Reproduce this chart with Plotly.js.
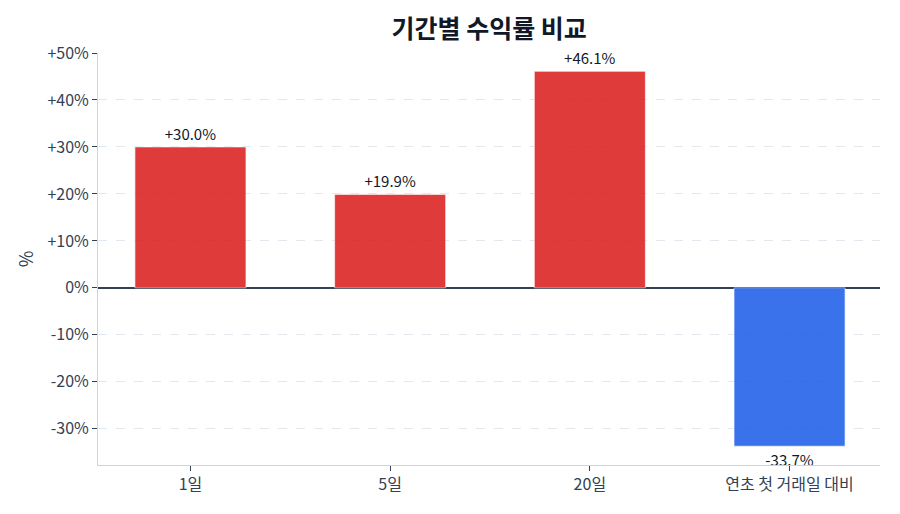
<!DOCTYPE html>
<html>
<head>
<meta charset="utf-8">
<script src="https://cdn.plot.ly/plotly-3.0.1.min.js"></script>
<style>
  html, body { margin: 0; padding: 0; background: #fff; }
  #chart { width: 900px; height: 514px; }
</style>
</head>
<body>
<div id="chart"></div>
<script>
const periods = [ '1일', '5일', '20일', '연초 첫 거래일 대비' ];
const returns = [ 30.0, 19.9, 46.1, -33.7 ];
const yTicks = [ -30, -20, -10, 0, 10, 20, 30, 40, 50 ];

const fmt = v => (v > 0 ? '+' : '') + v.toFixed(1) + '%';
const tickText = yTicks.map(v => (v > 0 ? '+' : '') + v + '%');
const barColors = returns.map(v => v >= 0 ? '#dc2626' : '#2563eb');

const font = '"Noto Sans CJK KR", "Noto Sans", sans-serif';

const data = [{
    type: 'bar',
    x: periods,
    y: returns,
    width: 0.556,
    marker: { color: barColors, opacity: 0.9, line: { color: 'rgba(255,255,255,0.6)', width: 1 } },
    text: returns.map(fmt),
    textposition: 'outside',
    cliponaxis: false,
    textfont: { family: font, size: 15, color: '#111827' },
    hoverinfo: 'skip',
}];

const layout = {
    width: 900,
    height: 514,
    margin: { l: 98, r: 20, t: 53, b: 49 },
    paper_bgcolor: '#fff',
    plot_bgcolor: '#fff',
    font: { family: font, size: 16, color: '#334155' },
    showlegend: false,
    title: {
        text: '<b>기간별 수익률 비교</b>',
        font: { family: font, size: 25, color: '#111827' },
        x: 0.5435,
        xanchor: 'center',
        y: 0.943,
        yanchor: 'middle',
    },
    xaxis: {
        type: 'category',
        range: [ -0.463, 3.453 ],
        showline: true,
        linecolor: '#cbd5e1',
        linewidth: 1,
        ticks: 'outside',
        ticklen: 5,
        tickcolor: '#334155',
        showgrid: false,
        tickfont: { family: font, size: 16, color: '#334155' },
    },
    yaxis: {
        range: [ -37.7, 50 ],
        tickvals: yTicks,
        ticktext: tickText,
        showline: true,
        linecolor: '#cbd5e1',
        linewidth: 1,
        ticks: 'outside',
        ticklen: 5,
        tickcolor: '#334155',
        showgrid: true,
        gridcolor: '#e2e8f0',
        griddash: 'dash',
        gridwidth: 1,
        zeroline: true,
        zerolinecolor: '#334155',
        zerolinewidth: 1.5,
        tickfont: { family: font, size: 16, color: '#334155' },
        title: { text: '%', font: { family: font, size: 18, color: '#334155' }, standoff: 9 },
    },
};

Plotly.newPlot('chart', data, layout, { displayModeBar: false, staticPlot: true });
</script>
</body>
</html>
